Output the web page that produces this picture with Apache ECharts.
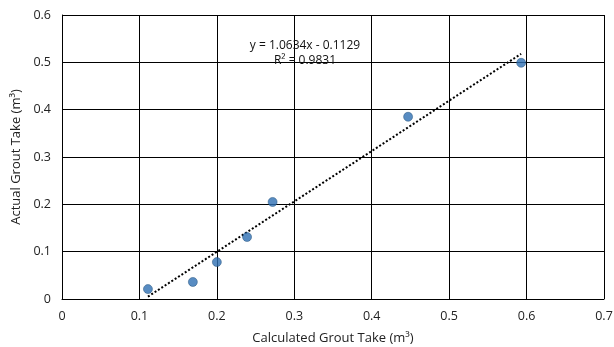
<!DOCTYPE html>
<html>
<head>
<meta charset="utf-8">
<script src="https://cdn.jsdelivr.net/npm/echarts@6/dist/echarts.min.js"></script>
<style>
  html, body { margin: 0; padding: 0; background: #fff; }
  #chart { width: 614px; height: 347px; }
</style>
</head>
<body>
<div id="chart"></div>
<script>
// calculated vs actual grout take (m3)
const calculated = [0.111, 0.169, 0.200, 0.239, 0.272, 0.447, 0.593]
const actual = [0.021, 0.036, 0.078, 0.131, 0.205, 0.385, 0.499]
// linear trendline end points, y = 1.0634x - 0.1129
const trendX = [0.111, 0.593]
const trendY = [0.005, 0.518]
const trendText = ['y = 1.0634x - 0.1129', 'R² = 0.9831']

const points = calculated.map((x, i) => [x, actual[i]])
const trend = trendX.map((x, i) => [x, trendY[i]])

const font = "'Open Sans', 'Liberation Sans', sans-serif"
const chart = echarts.init(document.getElementById('chart'))

chart.setOption({
  animation: false,
  backgroundColor: '#fff',
  textStyle: { fontFamily: font },
  grid: { left: 62, top: 15, width: 542, height: 284, outerBoundsMode: 'none', containLabel: false },
  xAxis: {
    type: 'value',
    min: 0,
    max: 0.7,
    interval: 0.1,
    name: 'Calculated Grout Take (m³)',
    nameLocation: 'middle',
    nameGap: 33,
    nameTextStyle: { fontSize: 13, color: '#222' },
    axisLine: { lineStyle: { color: '#000', width: 1 } },
    axisTick: { show: false },
    axisLabel: { color: '#222', fontSize: 12.5, margin: 11 },
    splitLine: { lineStyle: { color: '#000', width: 1 } }
  },
  yAxis: {
    type: 'value',
    min: 0,
    max: 0.6,
    interval: 0.1,
    name: 'Actual Grout Take (m³)',
    nameLocation: 'middle',
    nameGap: 38,
    nameTextStyle: { fontSize: 13, color: '#222' },
    axisLine: { show: true, lineStyle: { color: '#000', width: 1 } },
    axisTick: { show: false },
    axisLabel: { color: '#222', fontSize: 12.5, margin: 11 },
    splitLine: { lineStyle: { color: '#000', width: 1 } }
  },
  series: [
    {
      type: 'line',
      data: trend,
      symbol: 'none',
      lineStyle: { color: '#000', width: 2, type: [2, 2] },
      z: 2
    },
    {
      type: 'scatter',
      data: points,
      symbolSize: 9,
      itemStyle: { color: '#2e6fb3', borderColor: '#1f4e79', borderWidth: 0.6 },
      z: 3
    }
  ],
  graphic: [
    {
      type: 'text',
      x: 305,
      y: 38,
      z: 10,
      style: {
        text: trendText.join('\n'),
        textAlign: 'center',
        fontSize: 12,
        lineHeight: 15,
        fill: '#111',
        fontFamily: font
      }
    }
  ]
})
</script>
</body>
</html>
